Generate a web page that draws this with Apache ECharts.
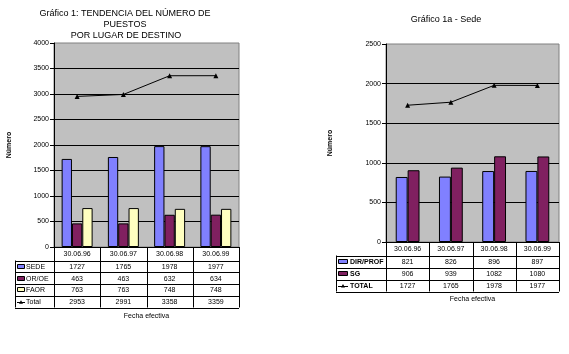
<!DOCTYPE html>
<html><head><meta charset="utf-8">
<script src="https://cdn.jsdelivr.net/npm/echarts@6/dist/echarts.min.js"></script>
<style>html,body{margin:0;padding:0;background:#fff}#c{width:569px;height:354px}</style>
</head><body><div id="c"></div>
<script>
// ---- data ----
const categories = ['30.06.96', '30.06.97', '30.06.98', '30.06.99'];
// Chart 1
const sede  = [1727, 1765, 1978, 1977];
const orOe  = [463, 463, 632, 634];
const faor  = [763, 763, 748, 748];
const total1 = [2953, 2991, 3358, 3359];
const names1 = ['SEDE', 'OR/OE', 'FAOR', 'Total'];
// Chart 1a
const dirProf = [821, 826, 896, 897];
const sg      = [906, 939, 1082, 1080];
const total2  = [1727, 1765, 1978, 1977];
const names2 = ['DIR/PROF', 'SG', 'TOTAL'];
const yMax1 = 4000, yMax2 = 2500, yStep = 500;
const title1 = ['Gráfico 1: TENDENCIA DEL NÚMERO DE', 'PUESTOS', 'POR LUGAR DE DESTINO'];
const title2 = 'Gráfico 1a - Sede';
const yName = 'Número';
const xName = 'Fecha efectiva';

// ---- layout / style ----
const FONT = '"Liberation Sans", Arial, sans-serif';
const C_BLUE = '#8080FF', C_PURP = '#802060', C_YEL = '#FFFFC0';
const G1 = {left: 54, top: 43, width: 185, height: 204};
const G2 = {left: 386, top: 44, width: 173, height: 198};

const chart = echarts.init(document.getElementById('c'), null, {renderer: 'canvas'});

function yAxisCfg(gi, max) {
  return {
    gridIndex: gi, type: 'value', min: 0, max: max, interval: yStep,
    axisLine: {show: true, lineStyle: {color: '#000', width: 1}},
    axisTick: {show: true, length: 4, lineStyle: {color: '#000'}},
    axisLabel: {fontSize: 7, color: '#000', fontFamily: FONT, margin: 5, formatter: v => String(v)},
    splitLine: {show: true, showMaxLine: false, lineStyle: {color: '#000', width: 1}}
  };
}
function xAxisCfg(gi) {
  return {
    gridIndex: gi, type: 'category', data: categories,
    axisLine: {show: true, lineStyle: {color: '#000', width: 1}},
    axisTick: {show: false}, axisLabel: {show: false}, splitLine: {show: false}
  };
}
const barBorder = {borderColor: '#000', borderWidth: 1};

const graphics = [];
function txt(x, y, text, opts) {
  graphics.push({type: 'text', silent: true, style: Object.assign({
    x: x, y: y, text: text, font: '7px ' + FONT, fill: '#000',
    align: 'center', verticalAlign: 'middle'}, opts || {})});
}
function line(x1, y1, x2, y2, color) {
  graphics.push({type: 'line', silent: true,
    shape: {x1: x1, y1: y1, x2: x2, y2: y2},
    style: {stroke: color || '#000', lineWidth: 1}});
}

// titles
txt(125, 14, title1[0], {font: '9px ' + FONT});
txt(125, 25, title1[1], {font: '9px ' + FONT});
txt(126, 35.5, title1[2], {font: '9px ' + FONT});
txt(446, 20, title2, {font: '9px ' + FONT});
// y names
graphics.push({type: 'text', silent: true, x: 9, y: 145, rotation: Math.PI / 2,
  style: {x: 0, y: 0, text: yName, font: 'bold 7px ' + FONT, fill: '#000', align: 'center', verticalAlign: 'middle'}});
graphics.push({type: 'text', silent: true, x: 330, y: 143, rotation: Math.PI / 2,
  style: {x: 0, y: 0, text: yName, font: 'bold 7px ' + FONT, fill: '#000', align: 'center', verticalAlign: 'middle'}});

// data tables
function table(G, labelLeft, dateH, rowH, rows, names, colors, labelBold, xNameY) {
  const n = categories.length, cw = G.width / n;
  const x0 = G.left, x1 = G.left + G.width, yTop = G.top + G.height;
  const yDate = yTop + dateH;
  const yEnd = yDate + rowH * rows.length;
  // vertical lines
  for (let i = 0; i <= n; i++) line(Math.round(x0 + i * cw) + 0.5, yTop, Math.round(x0 + i * cw) + 0.5, yEnd);
  line(labelLeft + 0.5, yDate, labelLeft + 0.5, yEnd);
  // horizontal lines
  for (let r = 0; r <= rows.length; r++) {
    const y = Math.round(yDate + r * rowH) + 0.5;
    line(labelLeft, y, x1, y);
  }
  // dates
  categories.forEach((c, i) => txt(x0 + (i + 0.5) * cw, yTop + dateH / 2 + 0.5, c));
  // rows
  rows.forEach((vals, r) => {
    const yc = yDate + (r + 0.5) * rowH + 0.5;
    vals.forEach((v, i) => txt(x0 + (i + 0.5) * cw, yc, String(v)));
    const kx = labelLeft + 2;
    if (colors[r]) {
      graphics.push({type: 'rect', silent: true,
        shape: {x: kx + 0.5, y: Math.round(yc) - 2.5, width: labelBold ? 9 : 7, height: 4},
        style: {fill: colors[r], stroke: '#000', lineWidth: 1}});
    } else {
      line(kx, Math.round(yc) + 0.5, kx + (labelBold ? 10 : 8), Math.round(yc) + 0.5);
      graphics.push({type: 'polygon', silent: true,
        shape: {points: [[kx + (labelBold ? 5 : 4), yc - 2], [kx + (labelBold ? 3 : 2), yc + 1.5], [kx + (labelBold ? 7 : 6), yc + 1.5]]},
        style: {fill: '#000'}});
    }
    txt(kx + (labelBold ? 12 : 9), yc, names[r], {align: 'left', font: (labelBold ? 'bold ' : '') + '7px ' + FONT});
  });
  txt(G.left + G.width / 2, xNameY, xName);
}
table(G1, 15, 13.5, 11.75, [sede, orOe, faor, total1], names1, [C_BLUE, C_PURP, C_YEL, null], false, 316);
table(G2, 336, 13.5, 12, [dirProf, sg, total2], names2, [C_BLUE, C_PURP, null], true, 299.5);

const option = {
  animation: false,
  backgroundColor: '#fff',
  grid: [
    Object.assign({show: true, backgroundColor: '#C0C0C0', borderColor: '#808080', borderWidth: 1}, G1),
    Object.assign({show: true, backgroundColor: '#C0C0C0', borderColor: '#808080', borderWidth: 1}, G2)
  ],
  xAxis: [xAxisCfg(0), xAxisCfg(1)],
  yAxis: [yAxisCfg(0, yMax1), yAxisCfg(1, yMax2)],
  series: [
    {name: names1[0], type: 'bar', xAxisIndex: 0, yAxisIndex: 0, data: sede, barGap: '0%', barCategoryGap: '33%',
      itemStyle: Object.assign({color: C_BLUE}, barBorder)},
    {name: names1[1], type: 'bar', xAxisIndex: 0, yAxisIndex: 0, data: orOe,
      itemStyle: Object.assign({color: C_PURP}, barBorder)},
    {name: names1[2], type: 'bar', xAxisIndex: 0, yAxisIndex: 0, data: faor,
      itemStyle: Object.assign({color: C_YEL}, barBorder)},
    {name: names1[3], type: 'line', xAxisIndex: 0, yAxisIndex: 0, data: total1,
      symbol: 'triangle', symbolSize: 5, lineStyle: {color: '#000', width: 1}, itemStyle: {color: '#000'}, z: 5},
    {name: names2[0], type: 'bar', xAxisIndex: 1, yAxisIndex: 1, data: dirProf, barGap: '0%', barCategoryGap: '45%',
      itemStyle: Object.assign({color: C_BLUE}, barBorder)},
    {name: names2[1], type: 'bar', xAxisIndex: 1, yAxisIndex: 1, data: sg,
      itemStyle: Object.assign({color: C_PURP}, barBorder)},
    {name: names2[2], type: 'line', xAxisIndex: 1, yAxisIndex: 1, data: total2,
      symbol: 'triangle', symbolSize: 5, lineStyle: {color: '#000', width: 1}, itemStyle: {color: '#000'}, z: 5}
  ],
  graphic: {elements: graphics}
};
chart.setOption(option);
</script></body></html>
